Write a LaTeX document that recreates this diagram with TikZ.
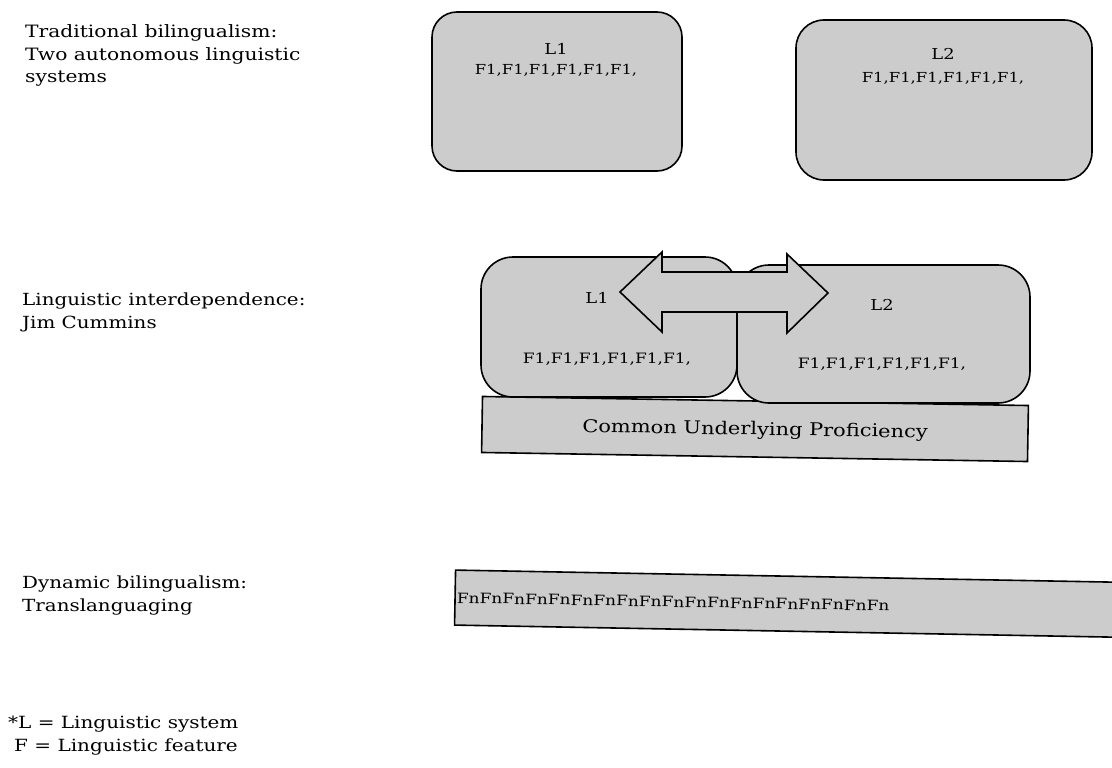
\documentclass[tikz,border=0pt]{standalone}
\usepackage{fontspec}
\setmainfont{DejaVu Serif}[FakeStretch=1.19]
\definecolor{boxgray}{RGB}{204,204,204}
\begin{document}
\begin{tikzpicture}[x=1pt,y=-1pt,
  panel/.style={draw=black, line width=1.6pt, fill=boxgray, inner sep=0pt},
  lab/.style={anchor=base west, inner sep=0pt, font=\fontsize{17}{20}\selectfont},
  midlab/.style={anchor=base west, inner sep=0pt, font=\fontsize{16.7}{20}\selectfont},
  smalllab/.style={anchor=base west, inner sep=0pt, font=\fontsize{16.8}{20}\selectfont},
  intext/.style={anchor=base, inner sep=0pt, font=\fontsize{#1}{#1}\selectfont},
  intext/.default=14,
]
\clip (0,0) rectangle (1112,768);
\fill[white] (0,0) rectangle (1112,768);

% left labels
\node[lab] (t1a) at (25,38) {Traditional bilingualism:};
\node[lab] (t1b) at (25,61) {Two autonomous linguistic};
\node[lab] (t1c) at (25,83) {systems};
\node[midlab] (t2a) at (22,305) {Linguistic interdependence:};
\node[midlab] (t2b) at (22,328) {Jim Cummins};
\node[midlab] (t3a) at (22,588) {Dynamic bilingualism:};
\node[midlab] (t3b) at (22,611) {Translanguaging};
\node[smalllab] (n1) at (8,728) {*L = Linguistic system};
\node[smalllab] (n2) at (14,751) {F = Linguistic feature};

% top: two autonomous systems
\node[panel, rounded corners=25pt, minimum width=250pt, minimum height=159pt] (sysA) at (557,91.5) {};
\node[panel, rounded corners=28pt, minimum width=296pt, minimum height=160pt] (sysB) at (944,100) {};
\node[intext=15] (sysAl) at (556,55) {L1};
\node[intext=13.8] (sysAf) at (556,75) {F1,F1,F1,F1,F1,F1,};
\node[intext=15] (sysBl) at (943,60) {L2};
\node[intext=13.8] (sysBf) at (943,82) {F1,F1,F1,F1,F1,F1,};

% middle: interdependence
\node[panel, rotate=-0.95, minimum width=546pt, minimum height=56pt] (cup) at (755,429) {};
\node[panel, rounded corners=32pt, minimum width=293pt, minimum height=138pt] (midB) at (883.5,334) {};
\node[panel, rounded corners=32pt, minimum width=256pt, minimum height=140pt] (midA) at (609,327) {};
\draw[panel] (620,292) -- (662,252) -- (662,272) -- (787,272) -- (787,254) -- (828,293)
  -- (787,333) -- (787,312) -- (662,312) -- (662,332) -- cycle;
\node[intext=15] (midAl) at (597,303) {L1};
\node[intext=14.3] (midAf) at (607,363) {F1,F1,F1,F1,F1,F1,};
\node[intext=15] (midBl) at (882,310) {L2};
\node[intext=14.3] (midBf) at (882,368) {F1,F1,F1,F1,F1,F1,};
\node[intext=17.6, rotate=-0.95] (cupt) at (755,435) {Common Underlying Proficiency};

% bottom: translanguaging
\node[panel, rotate=-1.05, minimum width=700pt, minimum height=55pt] (trans) at (805,604) {};
\node[intext=14.3, rotate=-1.05] (transt) at (673,607) {FnFnFnFnFnFnFnFnFnFnFnFnFnFnFnFnFnFnFn};
\end{tikzpicture}
\end{document}
